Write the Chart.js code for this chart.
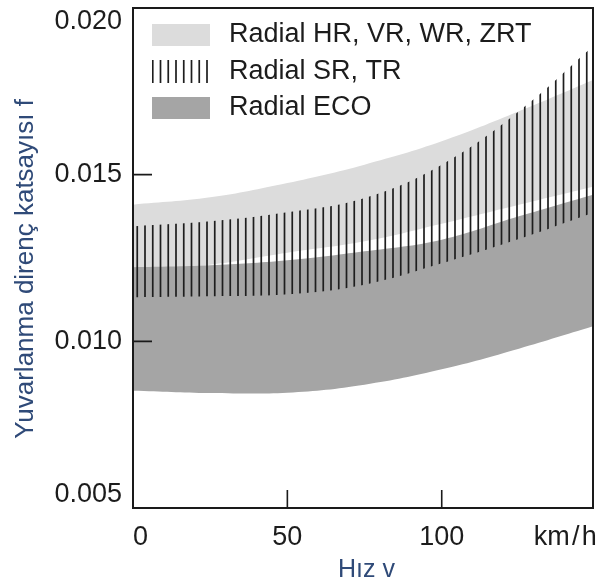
<!DOCTYPE html>
<html>
<head>
<meta charset="utf-8">
<title>Yuvarlanma direnç katsayısı</title>
<script src="https://cdn.jsdelivr.net/npm/chart.js@4.4.1/dist/chart.umd.min.js"></script>
<style>
    html, body { margin: 0; padding: 0; background: #fff; }
    #wrap { width: 598px; height: 588px; }
</style>
</head>
<body>
<div id="wrap"><canvas id="rollingChart"></canvas></div>

<script>
    // Hız (km/h) and band limits
    const speeds = [0, 25, 50, 75, 100, 125, 149];

    const hrUpper = [0.01410, 0.01432, 0.01475, 0.01530, 0.01600, 0.01690, 0.01784];
    const hrLower = [0.01210, 0.01230, 0.01266, 0.01300, 0.01353, 0.01410, 0.01464];

    const srUpper = [0.01345, 0.01360, 0.01387, 0.01430, 0.01530, 0.01690, 0.01885];
    const srLower = [0.01132, 0.01135, 0.01141, 0.01170, 0.01234, 0.01307, 0.01386];

    const ecoUpper = [0.01222, 0.01228, 0.01243, 0.01270, 0.01305, 0.01375, 0.01440];
    const ecoLower = [0.00852, 0.00845, 0.00846, 0.00870, 0.00916, 0.00978, 0.01045];

    const seriesLabels = ['Radial HR, VR, WR, ZRT', 'Radial SR, TR', 'Radial ECO'];

    const yTicks = [0.005, 0.010, 0.015, 0.020];
    const xTicks = [0, 50, 100];
    const unitLabel = 'km\u200A/\u200Ah';
    const unitAt = 140;

    const FONT = 'Liberation Sans, Arial, Helvetica, sans-serif';
    const TEXT = '#1c1c1c';
    const TITLE = '#2f4a78';

    function stripePattern() {
        const c = document.createElement('canvas');
        c.width = 31;
        c.height = 4;
        const g = c.getContext('2d');
        g.fillStyle = '#1e1e1e';
        [5.5, 13.25, 21, 28.75].forEach(x => g.fillRect(x - 0.85, 0, 1.7, 4));
        return g.createPattern(c, 'repeat');
    }

    const toPoints = arr => arr.map((v, i) => ({ x: speeds[i], y: v }));

    function band(label, upper, lower, color) {
        const common = {
            borderWidth: 0,
            pointRadius: 0,
            pointHoverRadius: 0,
            tension: 0.4
        };
        return [
            Object.assign({ label: label, data: toPoints(upper), fill: '+1', backgroundColor: color }, common),
            Object.assign({ label: '', data: toPoints(lower), fill: false, backgroundColor: color }, common)
        ];
    }

    // first dataset is painted last, so the striped band sits on top
    const datasets = [].concat(
        band(seriesLabels[1], srUpper, srLower, stripePattern()),
        band(seriesLabels[2], ecoUpper, ecoLower, '#a5a5a5'),
        band(seriesLabels[0], hrUpper, hrLower, '#dcdcdc')
    );

    const frameAndLegend = {
        id: 'frameAndLegend',
        afterDatasetsDraw(chart) {
            const { ctx, chartArea: a, scales: { x, y } } = chart;
            ctx.save();

            // frame
            ctx.strokeStyle = '#1a1a1a';
            ctx.lineWidth = 2;
            ctx.strokeRect(a.left, a.top, a.right - a.left, a.bottom - a.top);

            // inward tick marks
            ctx.lineWidth = 1.6;
            ctx.beginPath();
            yTicks.forEach(v => {
                if (v > y.min && v < y.max) {
                    const py = y.getPixelForValue(v);
                    ctx.moveTo(a.left, py);
                    ctx.lineTo(a.left + 19, py);
                }
            });
            xTicks.forEach(v => {
                if (v > x.min && v < x.max) {
                    const px = x.getPixelForValue(v);
                    ctx.moveTo(px, a.bottom);
                    ctx.lineTo(px, a.bottom - 18);
                }
            });
            ctx.stroke();

            // legend inside the plot
            ctx.font = '27px ' + FONT;
            ctx.textBaseline = 'middle';
            seriesLabels.forEach((label, i) => {
                const ds = chart.data.datasets.find(d => d.label === label);
                const cy = a.top + 27 + i * 36.5;
                const sh = i === 1 ? 23 : 22;
                ctx.fillStyle = ds.backgroundColor;
                ctx.fillRect(a.left + 19, cy - sh / 2, 58, sh);
                ctx.fillStyle = TEXT;
                ctx.fillText(label, a.left + 96, cy);
            });

            ctx.restore();
        }
    };

    document.addEventListener('DOMContentLoaded', function () {
        const ctx = document.getElementById('rollingChart').getContext('2d');
        new Chart(ctx, {
            type: 'line',
            data: { datasets: datasets },
            options: {
                responsive: true,
                maintainAspectRatio: false,
                devicePixelRatio: 1,
                animation: false,
                events: [],
                layout: { padding: { top: 8, right: 5, bottom: 0, left: 0 } },
                plugins: {
                    legend: { display: false },
                    tooltip: { enabled: false },
                    filler: { propagate: false }
                },
                scales: {
                    x: {
                        type: 'linear',
                        min: 0,
                        max: 149,
                        grid: { display: false, drawTicks: false },
                        border: { display: false },
                        afterBuildTicks: axis => {
                            axis.ticks = xTicks.concat([unitAt]).map(v => ({ value: v }));
                        },
                        afterFit: axis => {
                            axis.height = 80;
                            axis.paddingLeft = 0;
                            axis.paddingRight = 0;
                        },
                        ticks: {
                            autoSkip: false,
                            maxRotation: 0,
                            padding: 16,
                            color: TEXT,
                            font: { family: FONT, size: 27, lineHeight: 1 },
                            callback: v => v === unitAt ? unitLabel : (v === 0 ? '  0' : String(v))
                        },
                        title: {
                            display: true,
                            text: ' Hız v',
                            color: TITLE,
                            font: { family: FONT, size: 25 },
                            padding: { top: 0, bottom: 3 }
                        }
                    },
                    y: {
                        min: 0.005,
                        max: 0.020,
                        grid: { display: false, drawTicks: false },
                        border: { display: false },
                        afterBuildTicks: axis => {
                            axis.ticks = yTicks.map(v => ({ value: v }));
                        },
                        afterFit: axis => {
                            axis.width = 133;
                            axis.paddingTop = 0;
                            axis.paddingBottom = 0;
                        },
                        ticks: {
                            padding: 11,
                            color: TEXT,
                            font: { family: FONT, size: 27, lineHeight: 1 },
                            callback: v => {
                                const t = v.toFixed(3);
                                if (v === yTicks[yTicks.length - 1]) return ['', t];
                                if (v === yTicks[0]) return [t, ''];
                                return t;
                            }
                        },
                        title: {
                            display: true,
                            text: 'Yuvarlanma direnç katsayısı f   ',
                            color: TITLE,
                            font: { family: FONT, size: 26 },
                            padding: { top: 10, bottom: 0 }
                        }
                    }
                }
            },
            plugins: [frameAndLegend]
        });
    });
</script>
</body>
</html>
